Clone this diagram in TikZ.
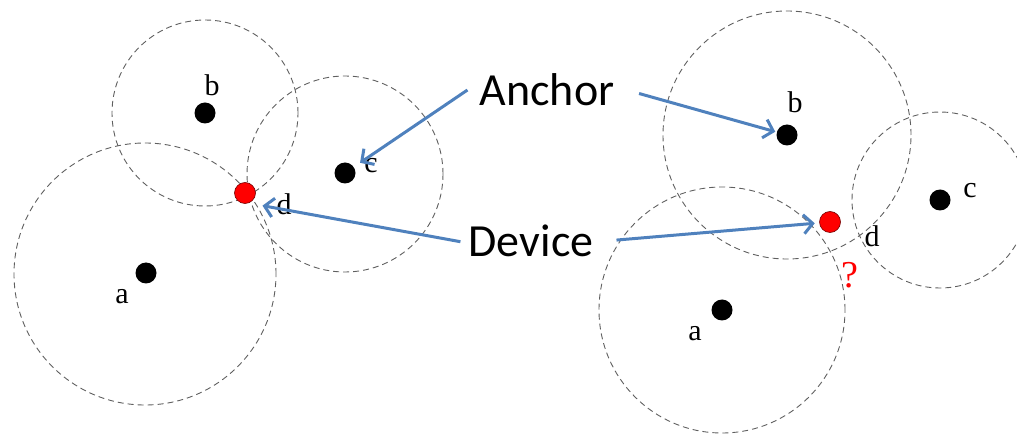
\documentclass[tikz,border=0pt]{standalone}
\usepackage{fontspec}
\setmainfont{Liberation Serif}
\newfontfamily\calib{Carlito}
\usetikzlibrary{arrows,arrows.meta,shapes,positioning}

\definecolor{arrowblue}{RGB}{79,129,189}
\definecolor{ringgray}{RGB}{95,95,95}
\definecolor{devred}{RGB}{255,0,0}

\tikzset{
  reach/.style={draw=ringgray, dash pattern=on 6pt off 4pt, line width=0.9pt},
  anc/.style={fill=black, circle, inner sep=0pt, minimum size=21pt},
  dev/.style={fill=devred, draw=red!45!black, line width=0.6pt, circle, inner sep=0pt, minimum size=21pt},
  lbl/.style={font=\fontsize{30}{30}\selectfont, inner sep=0pt},
  word/.style={font=\calib\fontsize{46}{46}\selectfont, inner sep=12pt},
  ptr/.style={draw=arrowblue, line width=3pt, -{Straight Barb[length=9pt,width=19pt]}},
}

\begin{document}
\begin{tikzpicture}[x=1pt,y=-1pt]
            \clip (0,0) rectangle (1017,435);

            % ranges, left group
            \draw[reach] (145,274) circle (131pt);
            \draw[reach] (205,113) circle (93pt);
            \draw[reach] (345,174) circle (98pt);

            % ranges, right group
            \draw[reach] (787,135) circle (124pt);
            \draw[reach] (940,200) circle (88pt);
            \draw[reach] (722,310) circle (123pt);

            % anchors and devices
            \node[anc] (la) at (146,273) {};
            \node[anc] (lb) at (205,113) {};
            \node[anc] (lc) at (345,173) {};
            \node[dev] (ld) at (245,193) {};

            \node[anc] (ra) at (722,310) {};
            \node[anc] (rb) at (787,135) {};
            \node[anc] (rc) at (940,200) {};
            \node[dev] (rd) at (830,222) {};

            \node[lbl] (la-t) at (122,297) {a};
            \node[lbl] (lb-t) at (212,85) {b};
            \node[lbl] (lc-t) at (371,166) {c};
            \node[lbl] (ld-t) at (284,204) {d};

            \node[lbl] (ra-t) at (695,334) {a};
            \node[lbl] (rb-t) at (795,102) {b};
            \node[lbl] (rc-t) at (970,191) {c};
            \node[lbl] (rd-t) at (872,236) {d};
            \node[lbl, text=red, font=\fontsize{38}{38}\selectfont] (qm) at (850,275) {?};

            \node[word] (aw) at (547,90) {Anchor};
            \node[word] (dw) at (531,241) {Device};

            \draw[ptr, shorten >=7.5pt] (aw.west) -- (lc);
            \draw[ptr, shorten <=13pt, shorten >=1.5pt] (aw.east) -- (rb);
            \draw[ptr, shorten <=-4pt, shorten >=14pt] (dw.west) -- (ld.-70);
            \draw[ptr, shorten <=11pt, shorten >=4.5pt] (dw.east) -- (rd);

        \end{tikzpicture}
\end{document}
